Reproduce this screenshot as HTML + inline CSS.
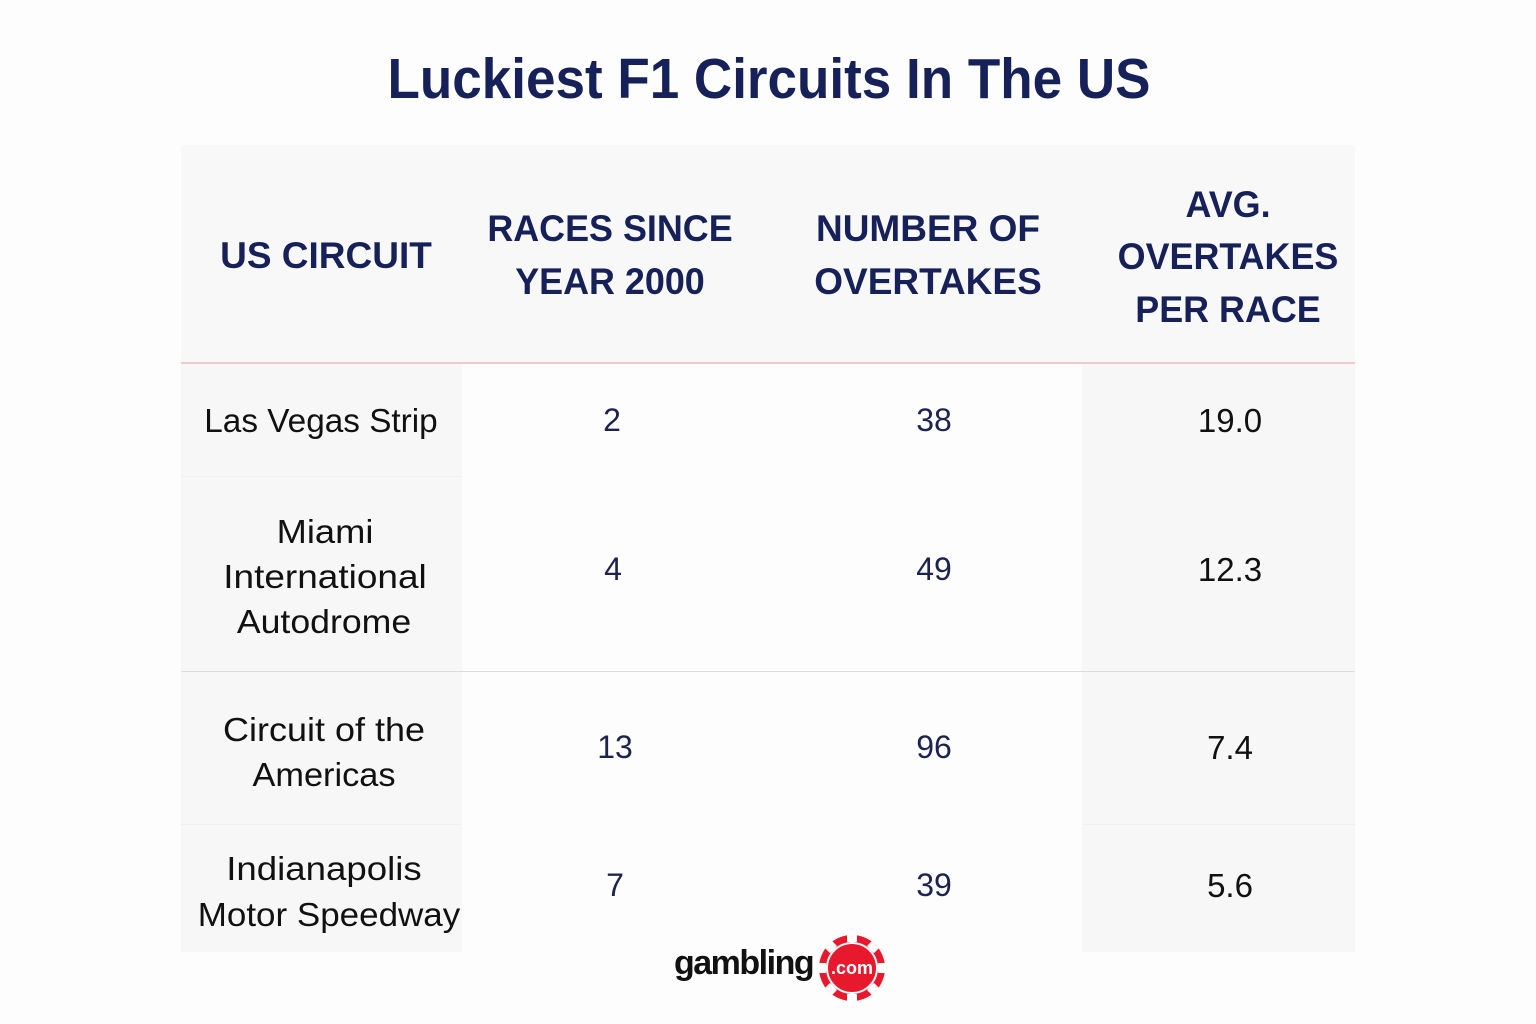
<!DOCTYPE html>
<html><head><meta charset="utf-8"><style>
html,body{margin:0;padding:0;}
body{width:1536px;height:1024px;background:#fdfdfd;position:relative;overflow:hidden;font-family:"Liberation Sans",sans-serif;}
.a{position:absolute;}
.t{position:absolute;white-space:nowrap;text-align:center;transform:translateX(-50%);}
.h{font-weight:bold;color:#16215a;font-size:37px;line-height:37px;}
.b{color:#111;font-size:33px;line-height:33px;}
.n{color:#1c2350;font-size:32px;line-height:32px;}
</style></head><body>
<div class="t" style="left:769px;top:51px;font-size:57px;line-height:57px;font-weight:bold;color:#16215a;transform:translateX(-50%) scaleX(0.93);">Luckiest F1 Circuits In The US</div>

<!-- backgrounds -->
<div class="a" style="left:181px;top:145px;width:1174px;height:218px;background:#f8f8f8;"></div>
<div class="a" style="left:181px;top:364px;width:281px;height:588px;background:#f7f7f7;"></div>
<div class="a" style="left:1082px;top:364px;width:273px;height:588px;background:#f7f7f7;"></div>
<div class="a" style="left:462px;top:364px;width:620px;height:588px;background:#fdfdfd;"></div>
<div class="a" style="left:181px;top:476px;width:281px;height:1px;background:#f0f0f0;"></div>
<div class="a" style="left:181px;top:824px;width:281px;height:1px;background:#f0f0f0;"></div>
<div class="a" style="left:1082px;top:824px;width:273px;height:1px;background:#f0f0f0;"></div>
<div class="a" style="left:181px;top:362px;width:1174px;height:2px;background:#f2c8c8;"></div>
<div class="a" style="left:181px;top:671px;width:1174px;height:1px;background:#dcdcdc;"></div>

<!-- header -->
<div class="t h" style="left:326px;top:237px;">US CIRCUIT</div>
<div class="t h" style="left:610px;top:210px;transform:translateX(-50%) scaleX(0.97);">RACES SINCE</div>
<div class="t h" style="left:610px;top:263px;transform:translateX(-50%) scaleX(0.97);">YEAR 2000</div>
<div class="t h" style="left:928px;top:210px;">NUMBER OF</div>
<div class="t h" style="left:928px;top:263px;">OVERTAKES</div>
<div class="t h" style="left:1228px;top:186px;transform:translateX(-50%) scaleX(0.97);">AVG.</div>
<div class="t h" style="left:1228px;top:238px;transform:translateX(-50%) scaleX(0.97);">OVERTAKES</div>
<div class="t h" style="left:1228px;top:291px;transform:translateX(-50%) scaleX(0.97);">PER RACE</div>

<!-- row1 -->
<div class="t b" style="left:321px;top:404px;transform:translateX(-50%) scaleX(1.01);">Las Vegas Strip</div>
<div class="t n" style="left:612px;top:404px;">2</div>
<div class="t n" style="left:934px;top:404px;">38</div>
<div class="t b" style="left:1230px;top:404px;">19.0</div>

<!-- row2 -->
<div class="t b" style="left:325px;top:515px;transform:translateX(-50%) scaleX(1.10);">Miami</div>
<div class="t b" style="left:325px;top:560px;transform:translateX(-50%) scaleX(1.12);">International</div>
<div class="t b" style="left:324px;top:605px;transform:translateX(-50%) scaleX(1.08);">Autodrome</div>
<div class="t n" style="left:613px;top:553px;">4</div>
<div class="t n" style="left:934px;top:553px;">49</div>
<div class="t b" style="left:1230px;top:553px;">12.3</div>

<!-- row3 -->
<div class="t b" style="left:324px;top:713px;transform:translateX(-50%) scaleX(1.09);">Circuit of the</div>
<div class="t b" style="left:324px;top:758px;transform:translateX(-50%) scaleX(1.04);">Americas</div>
<div class="t n" style="left:615px;top:731px;">13</div>
<div class="t n" style="left:934px;top:731px;">96</div>
<div class="t b" style="left:1230px;top:731px;">7.4</div>

<!-- row4 -->
<div class="t b" style="left:324px;top:852px;transform:translateX(-50%) scaleX(1.11);">Indianapolis</div>
<div class="t b" style="left:329px;top:898px;transform:translateX(-50%) scaleX(1.06);">Motor Speedway</div>
<div class="t n" style="left:615px;top:869px;">7</div>
<div class="t n" style="left:934px;top:869px;">39</div>
<div class="t b" style="left:1230px;top:869px;">5.6</div>

<!-- logo -->
<div class="a" style="left:674px;top:943px;font-size:34px;line-height:40px;font-weight:bold;color:#111;letter-spacing:-1.5px;">gambling</div>
<svg class="a" style="left:817px;top:933px;" width="70" height="70" viewBox="0 0 70 70">
<circle cx="35" cy="35" r="33" fill="#e8192c"/>
<g fill="#fff">
<rect x="30" y="2" width="10" height="7" rx="1"/>
<rect x="30" y="2" width="10" height="7" rx="1" transform="rotate(45 35 35)"/>
<rect x="30" y="2" width="10" height="7" rx="1" transform="rotate(90 35 35)"/>
<rect x="30" y="2" width="10" height="7" rx="1" transform="rotate(135 35 35)"/>
<rect x="30" y="2" width="10" height="7" rx="1" transform="rotate(180 35 35)"/>
<rect x="30" y="2" width="10" height="7" rx="1" transform="rotate(225 35 35)"/>
<rect x="30" y="2" width="10" height="7" rx="1" transform="rotate(270 35 35)"/>
<rect x="30" y="2" width="10" height="7" rx="1" transform="rotate(315 35 35)"/>
</g>
<circle cx="35" cy="35" r="25" fill="none" stroke="#fff" stroke-width="2"/>
<text x="35" y="41" text-anchor="middle" font-family="Liberation Sans, sans-serif" font-weight="bold" font-size="18" fill="#fff">.com</text>
</svg>
</body></html>
